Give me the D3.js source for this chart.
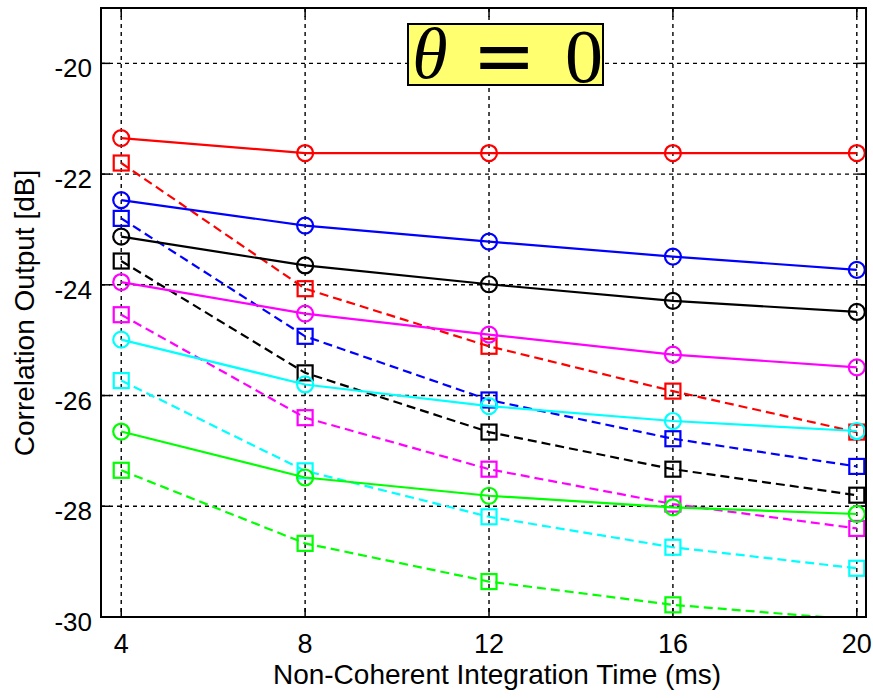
<!DOCTYPE html>
<html>
<head>
<meta charset="utf-8">
<script src="https://cdn.jsdelivr.net/npm/d3@7"></script>
<style>
  html, body { margin: 0; padding: 0; background: #fff; }
  svg { display: block; font-family: "Liberation Sans", Arial, sans-serif; }
</style>
</head>
<body>
<svg id="chart" width="873" height="698"></svg>
<script>
// integration times (ms)
const times = [4, 8, 12, 16, 20];
const xTicks = [4, 8, 12, 16, 20];
const yTicks = [-30, -28, -26, -24, -22, -20];

// solid lines with circle markers
const redCircle = [-21.35, -21.62, -21.62, -21.62, -21.62];
const blueCircle = [-22.47, -22.93, -23.22, -23.49, -23.73];
const blackCircle = [-23.13, -23.65, -23.99, -24.29, -24.49];
const magentaCircle = [-23.95, -24.52, -24.9, -25.26, -25.49];
const cyanCircle = [-24.99, -25.8, -26.19, -26.46, -26.64];
const greenCircle = [-26.65, -27.48, -27.81, -28.02, -28.14];

// dashed lines with square markers
const redSquare = [-21.8, -24.07, -25.11, -25.92, -26.66];
const blueSquare = [-22.8, -24.93, -26.08, -26.78, -27.28];
const blackSquare = [-23.57, -25.59, -26.66, -27.33, -27.8];
const magentaSquare = [-24.54, -26.4, -27.33, -27.96, -28.4];
const cyanSquare = [-25.73, -27.36, -28.19, -28.74, -29.12];
const greenSquare = [-27.35, -28.67, -29.36, -29.78, -30.05];

const series = [
  { values: redSquare, color: "#ff0000", marker: "square" },
  { values: blueSquare, color: "#0000ff", marker: "square" },
  { values: blackSquare, color: "#000000", marker: "square" },
  { values: magentaSquare, color: "#ff00ff", marker: "square" },
  { values: cyanSquare, color: "#00ffff", marker: "square" },
  { values: greenSquare, color: "#00ff00", marker: "square" },
  { values: redCircle, color: "#ff0000", marker: "circle" },
  { values: blueCircle, color: "#0000ff", marker: "circle" },
  { values: blackCircle, color: "#000000", marker: "circle" },
  { values: magentaCircle, color: "#ff00ff", marker: "circle" },
  { values: cyanCircle, color: "#00ffff", marker: "circle" },
  { values: greenCircle, color: "#00ff00", marker: "circle" },
];

const svg = d3.select("#chart");
const plotLeft = 101, plotRight = 866, plotTop = 8, plotBottom = 617;

const x = d3.scaleLinear().domain([3.56, 20.2]).range([plotLeft, plotRight]);
const y = d3.scaleLinear().domain([-30, -19]).range([plotBottom, plotTop]);
const [yMin, yMax] = y.domain();

svg.append("defs").append("clipPath").attr("id", "plot-clip")
  .append("rect")
  .attr("x", plotLeft).attr("y", plotTop)
  .attr("width", plotRight - plotLeft).attr("height", plotBottom - plotTop);

// grid
const grid = svg.append("g")
  .attr("stroke", "#000")
  .attr("stroke-width", 1.4)
  .attr("stroke-dasharray", "4,4");

grid.selectAll("line.gx")
  .data(xTicks)
  .join("line")
  .attr("class", "gx")
  .attr("x1", (d) => x(d)).attr("x2", (d) => x(d))
  .attr("y1", plotTop).attr("y2", plotBottom);

grid.selectAll("line.gy")
  .data(yTicks.filter((d) => d > yMin))
  .join("line")
  .attr("class", "gy")
  .attr("y1", (d) => y(d)).attr("y2", (d) => y(d))
  .attr("x1", plotLeft).attr("x2", plotRight);

// ticks (inside, on all four sides)
const tickLen = 9;
const ticks = svg.append("g").attr("stroke", "#000").attr("stroke-width", 1.5);
xTicks.forEach((t) => {
  ticks.append("line").attr("x1", x(t)).attr("x2", x(t)).attr("y1", plotBottom).attr("y2", plotBottom - tickLen);
  ticks.append("line").attr("x1", x(t)).attr("x2", x(t)).attr("y1", plotTop).attr("y2", plotTop + tickLen);
});
yTicks.forEach((t) => {
  ticks.append("line").attr("y1", y(t)).attr("y2", y(t)).attr("x1", plotLeft).attr("x2", plotLeft + tickLen);
  ticks.append("line").attr("y1", y(t)).attr("y2", y(t)).attr("x1", plotRight).attr("x2", plotRight - tickLen);
});

// series
const line = d3.line()
  .x((d, i) => x(times[i]))
  .y((d) => y(d));

const plot = svg.append("g").attr("clip-path", "url(#plot-clip)");

series.forEach((s) => {
  plot.append("path")
    .datum(s.values)
    .attr("d", line)
    .attr("fill", "none")
    .attr("stroke", s.color)
    .attr("stroke-width", 2.2)
    .attr("stroke-dasharray", s.marker === "square" ? "9,5" : null);

  // points outside the y-limits get no marker (clipped like MATLAB)
  const pts = s.values
    .map((v, i) => [times[i], v])
    .filter((d) => d[1] >= yMin && d[1] <= yMax);

  if (s.marker === "circle") {
    plot.selectAll(null)
      .data(pts)
      .join("circle")
      .attr("cx", (d) => x(d[0]))
      .attr("cy", (d) => y(d[1]))
      .attr("r", 8)
      .attr("fill", "none")
      .attr("stroke", s.color)
      .attr("stroke-width", 2.2);
  } else {
    plot.selectAll(null)
      .data(pts)
      .join("rect")
      .attr("x", (d) => x(d[0]) - 7.5)
      .attr("y", (d) => y(d[1]) - 7.5)
      .attr("width", 15)
      .attr("height", 15)
      .attr("fill", "none")
      .attr("stroke", s.color)
      .attr("stroke-width", 2.2);
  }
});

// frame
svg.append("rect")
  .attr("x", plotLeft).attr("y", plotTop)
  .attr("width", plotRight - plotLeft).attr("height", plotBottom - plotTop)
  .attr("fill", "none")
  .attr("stroke", "#000")
  .attr("stroke-width", 2);

// tick labels
svg.append("g")
  .selectAll("text")
  .data(xTicks)
  .join("text")
  .attr("x", (d) => x(d))
  .attr("y", 653)
  .attr("text-anchor", "middle")
  .attr("font-size", 27)
  .text((d) => d);

svg.append("g")
  .selectAll("text")
  .data(yTicks)
  .join("text")
  .attr("x", 92)
  .attr("y", (d) => y(d) + 14)
  .attr("text-anchor", "end")
  .attr("font-size", 26)
  .text((d) => d);

// axis labels
svg.append("text")
  .attr("x", 497)
  .attr("y", 684)
  .attr("text-anchor", "middle")
  .attr("font-size", 28)
  .text("Non-Coherent Integration Time (ms)");

svg.append("text")
  .attr("transform", "translate(34,313) rotate(-90)")
  .attr("text-anchor", "middle")
  .attr("font-size", 28)
  .text("Correlation Output [dB]");

// annotation box
const note = svg.append("g");
note.append("rect")
  .attr("x", 408).attr("y", 24)
  .attr("width", 195).attr("height", 61)
  .attr("fill", "#ffff70")
  .attr("stroke", "#000")
  .attr("stroke-width", 2);

note.append("text")
  .attr("x", 430)
  .attr("y", 78)
  .attr("text-anchor", "middle")
  .attr("font-family", "'Liberation Serif', 'DejaVu Serif', serif")
  .attr("font-style", "italic")
  .attr("font-size", 72)
  .text("θ");

note.append("text")
  .attr("x", 504)
  .attr("y", 82)
  .attr("text-anchor", "middle")
  .attr("font-family", "'DejaVu Sans', sans-serif")
  .attr("font-size", 76)
  .text("=");

note.append("text")
  .attr("x", 584)
  .attr("y", 82)
  .attr("text-anchor", "middle")
  .attr("font-family", "'Liberation Serif', serif")
  .attr("font-size", 76)
  .text("0");
</script>
</body>
</html>
